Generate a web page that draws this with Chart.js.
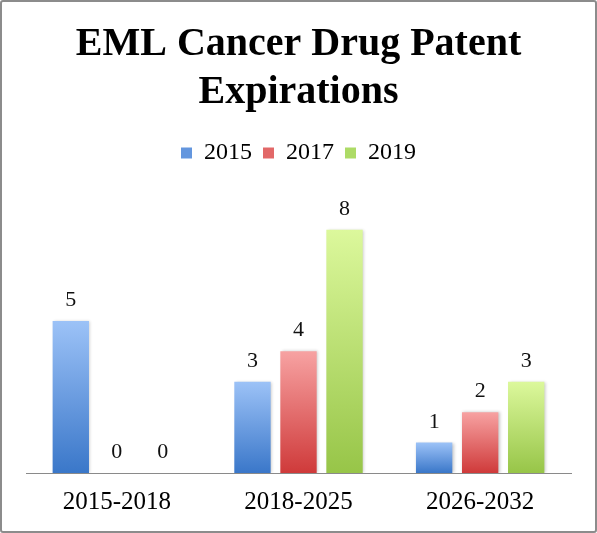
<!DOCTYPE html>
<html>
<head>
<meta charset="utf-8">
<script src="https://cdn.jsdelivr.net/npm/chart.js@4.4.1/dist/chart.umd.min.js"></script>
<style>
  html, body { margin: 0; padding: 0; background: #fff; }
  .frame { width: 597px; height: 533px; box-sizing: border-box; border: 2px solid #8c8c8c; border-radius: 3px; overflow: hidden; }
  canvas { display: block; }
</style>
</head>
<body>
<div class="frame"><canvas id="chart" width="593" height="529"></canvas></div>
<script>
const categories = ['2015-2018', '2018-2025', '2026-2032'];
const seriesNames = ['2015', '2017', '2019'];
const values2015 = [5, 3, 1];
const values2017 = [0, 4, 2];
const values2019 = [0, 8, 3];

// top / bottom / legend colour for each series
const blueShades = ['#9cc2f7', '#3a77c9', '#6396de'];
const redShades = ['#f7a2a2', '#cf3a3a', '#e26868'];
const greenShades = ['#dcf89c', '#97c548', '#addb66'];
const shadeSets = [blueShades, redShades, greenShades];

const serif = "'Liberation Serif', 'Times New Roman', serif";

function barFill(shades) {
  return (ctx) => {
    const chart = ctx.chart;
    const yScale = chart.scales.y;
    if (ctx.type !== 'data' || !yScale || ctx.parsed == null) return shades[2];
    const top = yScale.getPixelForValue(ctx.parsed.y);
    const base = yScale.getPixelForValue(0);
    if (!isFinite(top) || !isFinite(base) || base - top < 1) return shades[1];
    const g = chart.ctx.createLinearGradient(0, top, 0, base);
    g.addColorStop(0, shades[0]);
    g.addColorStop(1, shades[1]);
    return g;
  };
}

const barShadow = {
  id: 'barShadow',
  beforeDatasetDraw(chart) {
    const c = chart.ctx;
    c.save();
    c.shadowColor = 'rgba(0,0,0,0.22)';
    c.shadowBlur = 3;
    c.shadowOffsetX = 1.5;
    c.shadowOffsetY = 0;
  },
  afterDatasetDraw(chart) {
    chart.ctx.restore();
  }
};

const valueLabels = {
  id: 'valueLabels',
  afterDatasetsDraw(chart) {
    const c = chart.ctx;
    c.save();
    c.font = '22px ' + serif;
    c.fillStyle = '#111';
    c.textAlign = 'center';
    c.textBaseline = 'alphabetic';
    chart.data.datasets.forEach((ds, i) => {
      chart.getDatasetMeta(i).data.forEach((bar, j) => {
        c.fillText(String(ds.data[j]), bar.x, bar.y - 15);
      });
    });
    c.restore();
  }
};

new Chart(document.getElementById('chart'), {
  type: 'bar',
  data: {
    labels: categories,
    datasets: [
      { label: seriesNames[0], data: values2015, backgroundColor: barFill(blueShades) },
      { label: seriesNames[1], data: values2017, backgroundColor: barFill(redShades) },
      { label: seriesNames[2], data: values2019, backgroundColor: barFill(greenShades) }
    ]
  },
  options: {
    responsive: false,
    animation: false,
    datasets: { bar: { categoryPercentage: 0.76, barPercentage: 0.79, borderWidth: 0 } },
    layout: { padding: { left: 24, right: 24, top: 0, bottom: 0 } },
    plugins: {
      title: {
        display: true,
        text: ['EML Cancer Drug Patent', 'Expirations'],
        color: '#000',
        font: { family: serif, size: 40, weight: 'bold', lineHeight: 1.2 },
        padding: { top: 19, bottom: 13 }
      },
      legend: {
        display: true,
        labels: {
          boxWidth: 11, boxHeight: 11, padding: 11, color: '#000', font: { family: serif, size: 24 },
          generateLabels: (chart) => Chart.defaults.plugins.legend.labels.generateLabels(chart).map((item, i) => ({
            ...item, fillStyle: shadeSets[i][2], strokeStyle: shadeSets[i][2], lineWidth: 0
          }))
        }
      },
      tooltip: { enabled: false }
    },
    scales: {
      x: {
        grid: { display: false, drawTicks: false },
        border: { display: true, color: '#8a8a8a', width: 1 },
        ticks: { color: '#000', padding: 14, font: { family: serif, size: 25 } }
      },
      y: { display: false, min: 0, max: 9.8 }
    }
  },
  plugins: [barShadow, valueLabels]
});
</script>
</body>
</html>
